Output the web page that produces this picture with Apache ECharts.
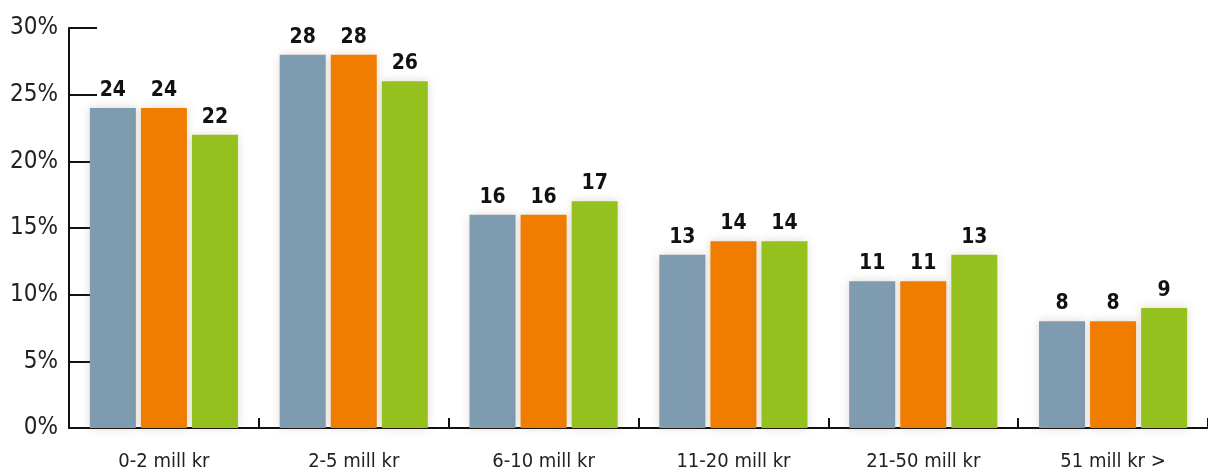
<!DOCTYPE html>
<html style="height: 100%">
<head>
    <meta charset="utf-8">
    <script src="https://cdn.jsdelivr.net/npm/echarts@6/dist/echarts.min.js"></script>
</head>
<body style="height: 100%; margin: 0; background: #fff">
    <div id="container" style="width: 1208px; height: 472px"></div>
    <script>
        var categories = ['0-2 mill kr', '2-5 mill kr', '6-10 mill kr', '11-20 mill kr', '21-50 mill kr', '51 mill kr >'];
        var seriesA = [24, 28, 16, 13, 11, 8];
        var seriesB = [24, 28, 16, 14, 11, 8];
        var seriesC = [22, 26, 17, 14, 13, 9];
        var colors = ['#7f9bb0', '#f07d00', '#95c11f'];
        var font = '"Liberation Sans Narrow", "DejaVu Sans Condensed", sans-serif';

        var chart = echarts.init(document.getElementById('container'), null, { renderer: 'canvas' });

        function barSeries(data, color) {
            return {
                type: 'bar',
                data: data,
                barWidth: 46,
                barGap: '11%',
                itemStyle: {
                    color: color,
                    shadowColor: 'rgba(120, 90, 60, 0.25)',
                    shadowBlur: 9
                },
                label: {
                    show: true,
                    position: 'top',
                    distance: 7,
                    color: '#111',
                    fontFamily: font,
                    fontWeight: 'bold',
                    fontSize: 21
                }
            };
        }

        var option = {
            animation: false,
            grid: { left: 69, top: 28, width: 1146, height: 402 },
            xAxis: {
                type: 'category',
                data: categories,
                axisLine: { lineStyle: { color: '#111', width: 2 } },
                axisTick: { show: true, inside: true, length: 10, lineStyle: { color: '#111', width: 2 } },
                axisLabel: {
                    margin: 24,
                    color: '#222',
                    fontSize: 20,
                    fontFamily: font
                }
            },
            yAxis: {
                type: 'value',
                min: 0,
                max: 30,
                interval: 5,
                axisLine: { show: true, lineStyle: { color: '#111', width: 2 } },
                axisTick: { show: true, inside: true, length: 28, lineStyle: { color: '#111', width: 2 } },
                splitLine: { show: false },
                axisLabel: {
                    formatter: '{value}%',
                    margin: 11,
                    color: '#222',
                    fontSize: 24,
                    fontFamily: font
                }
            },
            series: [
                barSeries(seriesA, colors[0]),
                barSeries(seriesB, colors[1]),
                barSeries(seriesC, colors[2])
            ]
        };
        chart.setOption(option);
    </script>
</body>
</html>
